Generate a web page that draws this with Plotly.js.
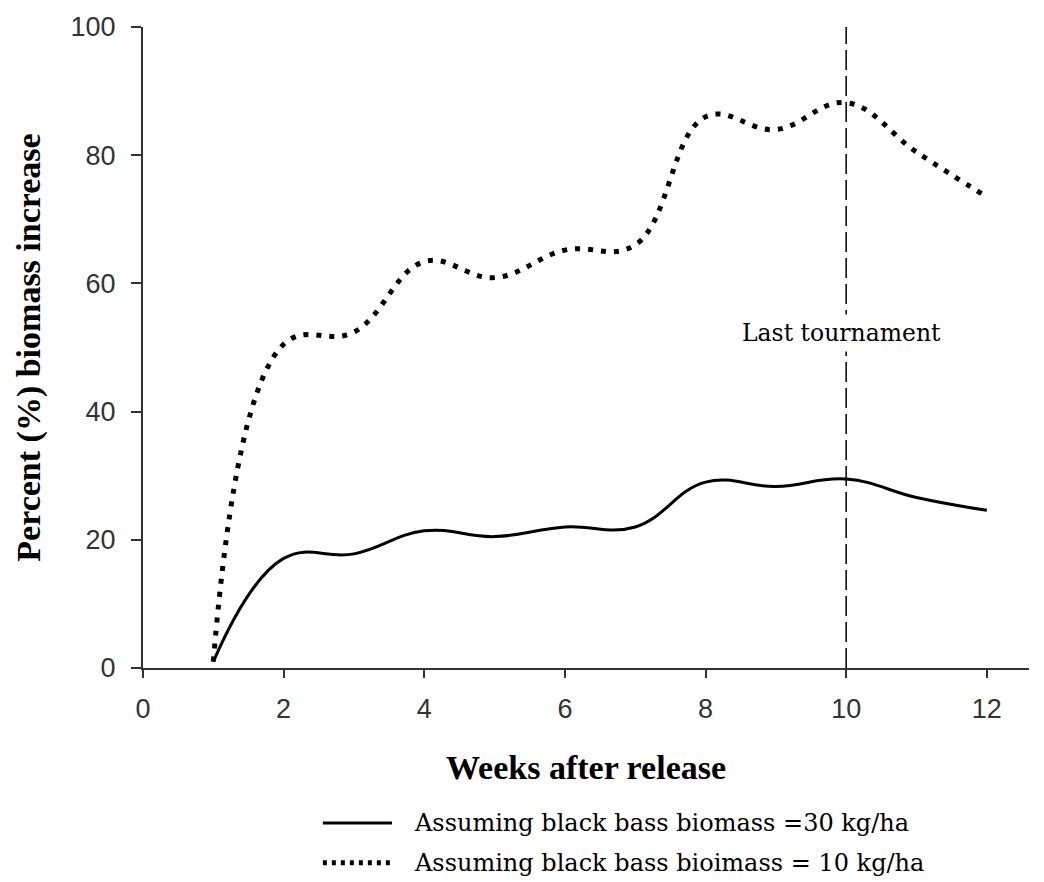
<!DOCTYPE html>
<html>
<head>
<meta charset="utf-8">
<script src="https://cdn.plot.ly/plotly-3.0.1.min.js"></script>
<style>
  html, body { margin: 0; padding: 0; background: #ffffff; }
  #chart { width: 1044px; height: 882px; }
</style>
</head>
<body>
<div id="chart"></div>
<script>
// Weeks after release of the stocked fish
const weeks = [1, 2, 3, 4, 5, 6, 7, 8, 9, 10, 11, 12];

// Percent biomass increase under two assumed black bass biomass levels
const increase30 = [1, 17.1, 17.8, 21.4, 20.5, 22.0, 22.0, 29.0, 28.3, 29.5, 26.6, 24.6];
const increase10 = [1, 50.5, 52.4, 63.4, 60.9, 65.2, 66.0, 86.0, 84.0, 88.2, 80.5, 73.5];

const seriesNames = [
  "Assuming black bass biomass =30 kg/ha",
  "Assuming black bass bioimass = 10 kg/ha"
];

const lastTournamentWeek = 10;
const lastTournamentLabel = "Last tournament";

const xTicks = [0, 2, 4, 6, 8, 10, 12];
const yTicks = [0, 20, 40, 60, 80, 100];

const axisColor = "#333333";
const tickFont = { family: "Liberation Sans, Arial, sans-serif", size: 27, color: "#333333" };
const titleFont = { family: "Liberation Serif, Times New Roman, serif", size: 34, color: "#000000", weight: "bold" };
const noteFont = { family: "DejaVu Serif, serif", size: 23.5, color: "#000000" };
const legendFont = { family: "DejaVu Serif, serif", size: 24, color: "#000000" };

const solidStyle = { color: "#000000", width: 3, shape: "spline", smoothing: 1.2 };
const dottedStyle = { color: "#000000", width: 5, dash: "5px,8px", shape: "spline", smoothing: 1.15 };

const traces = [
  {
    x: weeks, y: increase30, name: seriesNames[0],
    type: "scatter", mode: "lines", line: solidStyle, hoverinfo: "x+y"
  },
  {
    x: weeks, y: increase10, name: seriesNames[1],
    type: "scatter", mode: "lines", line: dottedStyle, hoverinfo: "x+y"
  }
];

// Legend is drawn beneath the axes: a sample stroke and the series name per row
const legendRows = [
  { y: -0.2418, line: { color: "#000000", width: 3 } },
  { y: -0.3037, line: { color: "#000000", width: 5, dash: "4px,5px" } }
];

const shapes = [
  {
    type: "line", xref: "x", yref: "paper",
    x0: lastTournamentWeek, x1: lastTournamentWeek, y0: 0, y1: 1,
    line: { color: "#000000", width: 1.5, dash: "20px,6px" }, layer: "below"
  }
];
const annotations = [
  {
    x: lastTournamentWeek, y: 52.3, xref: "x", yref: "y",
    text: lastTournamentLabel, showarrow: false,
    font: noteFont, bgcolor: "#ffffff", borderpad: 4,
    xanchor: "center", yanchor: "middle", xshift: -5
  }
];
legendRows.forEach((row, i) => {
  shapes.push({
    type: "line", xref: "paper", yref: "paper",
    x0: 0.203, x1: 0.281, y0: row.y, y1: row.y, line: row.line
  });
  annotations.push({
    x: 0.3036, y: row.y, xref: "paper", yref: "paper",
    text: seriesNames[i], showarrow: false,
    font: legendFont, xanchor: "left", yanchor: "middle"
  });
});

const layout = {
  width: 1044, height: 882,
  margin: { l: 143, r: 15, t: 27, b: 214 },
  paper_bgcolor: "#ffffff", plot_bgcolor: "#ffffff",
  showlegend: false,
  xaxis: {
    range: [0, 12.6], tickvals: xTicks, ticktext: xTicks.map(String),
    showgrid: false, zeroline: false,
    showline: true, linecolor: axisColor, linewidth: 2,
    ticks: "outside", ticklen: 8, tickwidth: 2, tickcolor: axisColor,
    tickfont: tickFont, ticklabelstandoff: 8,
    title: { text: "Weeks after release", font: titleFont, standoff: 32 },
    automargin: false, fixedrange: true
  },
  yaxis: {
    range: [0, 100], tickvals: yTicks, ticktext: yTicks.map(String),
    showgrid: false, zeroline: false,
    showline: true, linecolor: axisColor, linewidth: 2,
    ticks: "outside", ticklen: 10, tickwidth: 2, tickcolor: axisColor,
    tickfont: tickFont, ticklabelstandoff: 10,
    title: { text: "Percent (%) biomass increase", font: titleFont, standoff: 20 },
    automargin: false, fixedrange: true
  },
  shapes: shapes,
  annotations: annotations
};

Plotly.newPlot("chart", traces, layout, { displayModeBar: false, staticPlot: true });
</script>
</body>
</html>
